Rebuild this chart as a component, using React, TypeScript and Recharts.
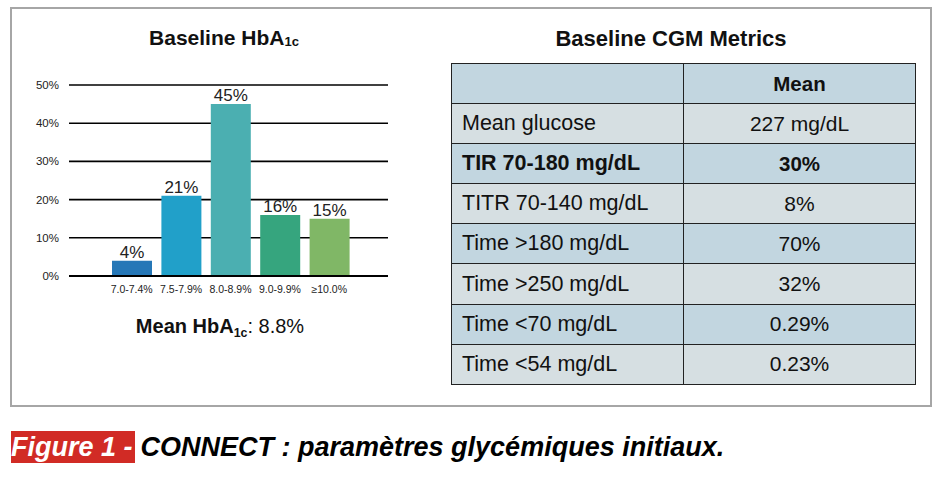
import React from 'react'
import { BarChart, Bar, XAxis, YAxis, CartesianGrid, LabelList, Cell } from 'recharts'

const hba1cRanges = ['7.0-7.4%', '7.5-7.9%', '8.0-8.9%', '9.0-9.9%', '≥10.0%']
const hba1cShare = [4, 21, 45, 16, 15]
const barColors = ['#2577b7', '#21a0c9', '#4bafb1', '#36a57e', '#80b766']
const yTicks = [0, 10, 20, 30, 40, 50]

const cgmMetrics = [
  'Mean glucose',
  'TIR 70-180 mg/dL',
  'TITR 70-140 mg/dL',
  'Time >180 mg/dL',
  'Time >250 mg/dL',
  'Time <70 mg/dL',
  'Time <54 mg/dL',
]
const cgmMeans = ['227 mg/dL', '30%', '8%', '70%', '32%', '0.29%', '0.23%']
const boldMetric = 'TIR 70-180 mg/dL'

const font = '"Liberation Sans", Arial, sans-serif'
const blueRow = '#c2d6e0'
const greyRow = '#d6dfe2'

const chartData = hba1cRanges.map((range, i) => ({ range, share: hba1cShare[i] }))

function Sub({ children, drop = '-0.2em' }: { children: React.ReactNode; drop?: string }) {
  return <span style={{ fontSize: '0.62em', verticalAlign: drop }}>{children}</span>
}

export default function App() {
  const cell = {
    border: '1.5px solid #222',
    height: 39.1,
    padding: 0,
    fontSize: 21.5,
    color: '#111',
  } as React.CSSProperties

  return (
    <div style={{ position: 'absolute', left: 0, top: 0, width: 944, height: 478, background: '#fff', fontFamily: font }}>
      {/* outer frame */}
      <div style={{ position: 'absolute', left: 10, top: 7, width: 922, height: 400, border: '2px solid #a6a6a6', boxSizing: 'border-box' }} />

      {/* left: HbA1c bars */}
      <div style={{ position: 'absolute', left: 74, top: 26, width: 300, textAlign: 'center', fontWeight: 'bold', fontSize: 21, color: '#111' }}>
        Baseline HbA<Sub drop="-0.05em">1c</Sub>
      </div>
      <div style={{ position: 'absolute', left: 0, top: 60 }}>
        <BarChart width={400} height={260} data={chartData} margin={{ top: 25, right: 12, bottom: 14, left: 0 }}>
          <CartesianGrid vertical={false} stroke="#000" strokeWidth={1.6} />
          <XAxis
            dataKey="range"
            height={30}
            padding={{ left: 38, right: 34 }}
            axisLine={{ stroke: '#000', strokeWidth: 1.8 }}
            tickLine={false}
            tickMargin={4}
            interval={0}
            tick={{ fill: '#222', fontSize: 10.5, fontFamily: font }}
          />
          <YAxis
            width={69}
            domain={[0, 50]}
            ticks={yTicks}
            axisLine={false}
            tickLine={false}
            tickMargin={4}
            tickFormatter={(v: number) => `${v}%`}
            tick={{ fill: '#222', fontSize: 11.5, fontFamily: font }}
          />
          <Bar dataKey="share" barSize={40} isAnimationActive={false}>
            {chartData.map((d, i) => (
              <Cell key={d.range} fill={barColors[i]} />
            ))}
            <LabelList
              dataKey="share"
              position="top"
              offset={3}
              formatter={(v: number) => `${v}%`}
              style={{ fill: '#222', fontSize: 17, fontFamily: font }}
            />
          </Bar>
        </BarChart>
      </div>
      <div style={{ position: 'absolute', left: 70, top: 315, width: 300, textAlign: 'center', fontSize: 20, color: '#111' }}>
        <b>Mean HbA<Sub drop="-0.3em">1c</Sub></b>: 8.8%
      </div>

      {/* right: CGM table */}
      <div style={{ position: 'absolute', left: 471, top: 26, width: 400, textAlign: 'center', fontWeight: 'bold', fontSize: 22, color: '#111' }}>
        Baseline CGM Metrics
      </div>
      <table
        style={{
          position: 'absolute',
          left: 451,
          top: 63,
          width: 464,
          borderCollapse: 'collapse',
          fontFamily: font,
          tableLayout: 'fixed',
        }}
      >
        <colgroup>
          <col style={{ width: 232 }} />
          <col style={{ width: 232 }} />
        </colgroup>
        <tbody>
          <tr style={{ background: blueRow }}>
            <td style={cell} />
            <td style={{ ...cell, textAlign: 'center', fontWeight: 'bold', fontSize: 20.5 }}>Mean</td>
          </tr>
          {cgmMetrics.map((m, i) => {
            const bold = m === boldMetric
            return (
              <tr key={m} style={{ background: i % 2 === 0 ? greyRow : blueRow }}>
                <td style={{ ...cell, paddingLeft: 10, fontWeight: bold ? 'bold' : 'normal' }}>{m}</td>
                <td style={{ ...cell, textAlign: 'center', fontWeight: bold ? 'bold' : 'normal', fontSize: bold ? 20.5 : 21 }}>{cgmMeans[i]}</td>
              </tr>
            )
          })}
        </tbody>
      </table>

      {/* caption */}
      <div style={{ position: 'absolute', left: 11, top: 431, height: 32, display: 'flex', alignItems: 'center', fontStyle: 'italic', fontWeight: 'bold', fontSize: 27, whiteSpace: 'nowrap' }}>
        <span style={{ background: '#d12b25', color: '#fff', height: 32, lineHeight: '32px', paddingRight: 2 }}>Figure 1 -</span>
        <span style={{ color: '#000', marginLeft: 6 }}>CONNECT : paramètres glycémiques initiaux.</span>
      </div>
    </div>
  )
}
